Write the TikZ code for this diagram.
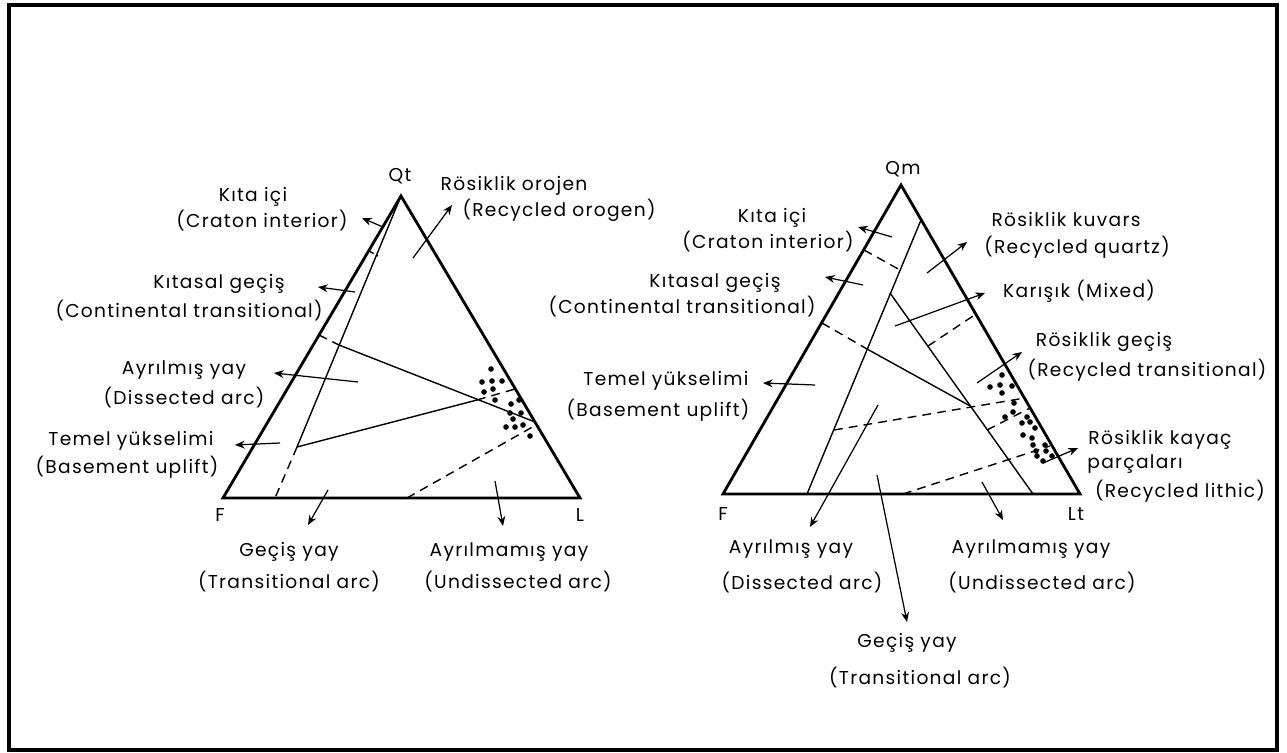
\documentclass[tikz,border=0pt]{standalone}
\usepackage{fontspec}
\setmainfont{Poppins}[LetterSpace=7]
\usetikzlibrary{arrows.meta}
\begin{document}
\begin{tikzpicture}[x=0.02cm,y=-0.02cm,
  frame/.style={line width=2pt},
  edge/.style={line width=1.6pt,line join=miter},
  inner/.style={line width=0.8pt},
  dsh/.style={line width=0.8pt,dash pattern=on 5pt off 3.5pt},
  arr/.style={line width=0.7pt,-{Stealth[length=5.5pt,width=4.5pt]}},
  lbl/.style={font=\fontsize{10.6}{12}\selectfont,inner sep=0pt},
  vtx/.style={font=\fontsize{10.6}{12}\selectfont,inner sep=0pt}]
\useasboundingbox (0,0) rectangle (1287,753);
\draw[frame] (9,5) rectangle (1277,750);

% ---------------- left triangle ----------------
\coordinate (Qt) at (401,196);
\coordinate (F1) at (223,498);
\coordinate (L1) at (580,498);
\draw[edge] (F1) -- (Qt) -- (L1) -- cycle;

\coordinate (a1) at (275,498);
\coordinate (a2) at (297,447);
\draw[inner] (Qt) -- (a2);
\draw[dsh] (a2) -- (a1);
\coordinate (t1l) at (369,251);
\coordinate (t1r) at (378,256);
\draw[inner,dash pattern=on 3pt off 2pt] (t1l) -- (t1r);
\coordinate (t2l) at (319,335);
\coordinate (t2r) at (339,345);
\draw[dsh] (t2l) -- (t2r);
\coordinate (r1) at (535,422);
\draw[inner] (t2r) -- (r1);
\coordinate (x1) at (477,400);
\coordinate (r2) at (515,389);
\draw[inner] (a2) -- (x1);
\draw[dsh] (x1) -- (r2);
\coordinate (b1) at (407,498);
\coordinate (r3) at (536,425);
\draw[dsh] (b1) -- (r3);

\foreach \p in {(491,369),(482,382),(492,381),(502,381),(484,392),(493,389),(495,400),
  (511,404),(519,400),(510,413),(521,413),(513,419),(506,427),(515,427),(523,425),(530,436)}
  \fill \p circle (1.6pt);

% labels left
\node[vtx] (nQt) at (400,176) {Qt};
\node[vtx] (nF1) at (220,515) {F};
\node[vtx] (nL1) at (580,515) {L};
\node[lbl] (k1a) at (253,197) {Kıta içi};
\node[lbl] (k1b) at (262,221) {(Craton interior)};
\node[lbl] (r1a) at (514,186) {Rösiklik orojen};
\node[lbl] (r1b) at (559,210) {(Recycled orogen)};
\node[lbl] (g1a) at (219,284) {Kıtasal geçiş};
\node[lbl] (g1b) at (189,311) {(Continental transitional)};
\node[lbl] (d1a) at (184,370) {Ayrılmış yay};
\node[lbl] (d1b) at (184,398) {(Dissected arc)};
\node[lbl] (u1a) at (131,441) {Temel yükselimi};
\node[lbl] (u1b) at (127,467) {(Basement uplift)};
\node[lbl] (ta1a) at (289,552) {Geçiş yay};
\node[lbl] (ta1b) at (289,582) {(Transitional arc)};
\node[lbl] (ua1a) at (509,552) {Ayrılmamış yay};
\node[lbl] (ua1b) at (518,582) {(Undissected arc)};

% arrows left
\coordinate (A1s) at (383,227); \coordinate (A1e) at (362,218);
\coordinate (A2s) at (413,258); \coordinate (A2e) at (452,205);
\coordinate (A3s) at (355,292); \coordinate (A3e) at (318,287);
\coordinate (A4s) at (358,382); \coordinate (A4e) at (274,373);
\coordinate (A5s) at (280,443); \coordinate (A5e) at (235,445);
\coordinate (A6s) at (328,490); \coordinate (A6e) at (308,525);
\coordinate (A7s) at (495,481); \coordinate (A7e) at (503,526);
\foreach \i in {1,...,7} \draw[arr] (A\i s) -- (A\i e);

% ---------------- right triangle ----------------
\coordinate (Qm) at (901,185);
\coordinate (F2) at (723,494);
\coordinate (Lt) at (1080,494);
\draw[edge] (F2) -- (Qm) -- (Lt) -- cycle;

\coordinate (c1) at (921,220);
\coordinate (c2) at (807,494);
\draw[inner] (c1) -- (c2);
\coordinate (c3) at (890,293);
\coordinate (c4) at (1033,494);
\draw[inner] (c3) -- (c4);
\coordinate (s1l) at (864,250);
\coordinate (s1r) at (900,270);
\draw[dsh] (s1l) -- (s1r);
\coordinate (s2l) at (822,323);
\coordinate (s2m) at (867,349);
\coordinate (s2r) at (972,407);
\draw[dsh] (s2l) -- (s2m);
\draw[inner] (s2m) -- (s2r);
\coordinate (s3l) at (834,430);
\coordinate (s3r) at (1025,398);
\draw[dsh] (s3l) -- (s3r);
\coordinate (s4l) at (928,346);
\coordinate (s4r) at (976,314);
\draw[dsh] (s4l) -- (s4r);
\coordinate (s5l) at (987,430);
\coordinate (s5r) at (1030,408);
\draw[dsh] (s5l) -- (s5r);
\coordinate (s6l) at (903,494);
\coordinate (s6r) at (1050,446);
\draw[dsh] (s6l) -- (s6r);

\foreach \p in {(1002,375),(990,387),(1000,385),(1012,386),(1002,393),(1014,403),(1013,412),
  (1005,417),(1027,417),(1022,423),(1030,422),(1035,428),(1023,435),(1032,438),(1033,445),
  (1045,445),(1036,451),(1046,451),(1037,456),(1052,456),(1043,461)}
  \fill \p circle (1.6pt);

% labels right
\node[vtx] (nQm) at (903,169) {Qm};
\node[vtx] (nF2) at (723,514) {F};
\node[vtx] (nLt) at (1076,514) {Lt};
\node[lbl] (k2a) at (772,218) {Kıta içi};
\node[lbl] (k2b) at (768,242) {(Craton interior)};
\node[lbl] (g2a) at (715,283) {Kıtasal geçiş};
\node[lbl] (g2b) at (682,307) {(Continental transitional)};
\node[lbl] (q2a) at (1066,219) {Rösiklik kuvars};
\node[lbl] (q2b) at (1077,247) {(Recycled quartz)};
\node[lbl] (m2a) at (1079,291) {Karışık (Mixed)};
\node[lbl] (rt2a) at (1104,342) {Rösiklik geçiş};
\node[lbl] (rt2b) at (1147,370) {(Recycled transitional)};
\node[lbl] (u2a) at (666,381) {Temel yükselimi};
\node[lbl] (u2b) at (658,410) {(Basement uplift)};
\node[lbl] (rl2a) at (1160,440) {Rösiklik kayaç};
\node[lbl] (rl2b) at (1135,464) {parçaları};
\node[lbl] (rl2c) at (1180,491) {(Recycled lithic)};
\node[lbl] (d2a) at (791,549) {Ayrılmış yay};
\node[lbl] (d2b) at (802,583) {(Dissected arc)};
\node[lbl] (ua2a) at (1031,549) {Ayrılmamış yay};
\node[lbl] (ua2b) at (1042,583) {(Undissected arc)};
\node[lbl] (ta2a) at (907,643) {Geçiş yay};
\node[lbl] (ta2b) at (920,678) {(Transitional arc)};

% arrows right
\coordinate (B1s) at (892,237); \coordinate (B1e) at (858,227);
\coordinate (B2s) at (863,285); \coordinate (B2e) at (825,277);
\coordinate (B3s) at (927,273); \coordinate (B3e) at (967,242);
\coordinate (B4s) at (895,326); \coordinate (B4e) at (985,293);
\coordinate (B5s) at (815,385); \coordinate (B5e) at (763,383);
\coordinate (B6s) at (878,405); \coordinate (B6e) at (810,527);
\coordinate (B7s) at (877,475); \coordinate (B7e) at (907,622);
\coordinate (B8s) at (982,482); \coordinate (B8e) at (1003,520);
\coordinate (B9s) at (977,383); \coordinate (B9e) at (1022,352);
\coordinate (B10s) at (1043,463); \coordinate (B10e) at (1078,448);
\foreach \i in {1,...,10} \draw[arr] (B\i s) -- (B\i e);
\end{tikzpicture}
\end{document}
